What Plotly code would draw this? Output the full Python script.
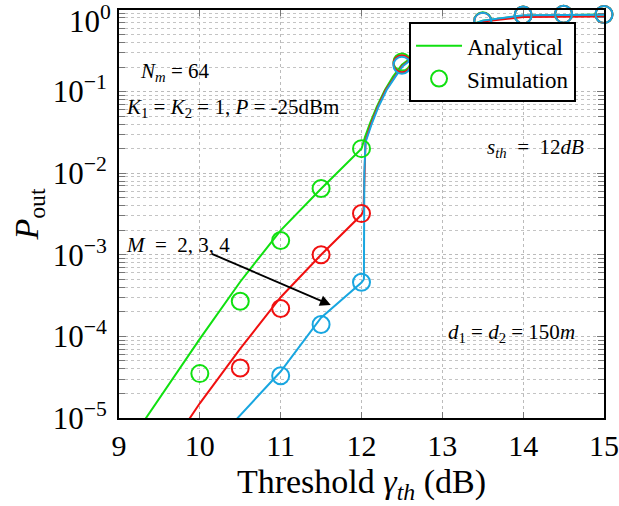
import numpy as np
import plotly.graph_objects as go

# ---------------- data ----------------
# Analytical curves (log10 of P_out)
x_an_M2 = [9.30, 9.5, 10.0, 10.5, 11.0, 11.5, 12.0, 12.045, 12.106, 12.19, 12.29, 12.39, 12.5, 13.0, 13.5, 14.0, 14.5, 15.0]
y_an_M2 = [-5.05, -4.76, -4.03, -3.33, -2.70, -2.19, -1.70, -1.55, -1.385, -1.185, -0.98, -0.817, -0.67, -0.30, -0.13, -0.07, -0.06, -0.055]

x_an_M3 = [9.85, 10.0, 10.5, 11.0, 11.5, 12.0, 12.025, 12.035, 12.05, 12.12, 12.20, 12.30, 12.41, 12.5, 13.0, 13.5, 14.0, 14.5, 15.0]
y_an_M3 = [-5.04, -4.82, -4.15, -3.52, -3.00, -2.51, -2.45, -2.00, -1.60, -1.39, -1.19, -0.98, -0.817, -0.69, -0.31, -0.14, -0.085, -0.082, -0.08]

x_an_M4 = [10.44, 11.0, 11.5, 12.0, 12.03, 12.035, 12.05, 12.13, 12.21, 12.31, 12.42, 12.51, 13.0, 13.5, 14.0, 14.5, 15.0]
y_an_M4 = [-5.03, -4.43, -3.77, -3.34, -3.30, -2.00, -1.62, -1.385, -1.185, -0.98, -0.817, -0.69, -0.31, -0.13, -0.065, -0.06, -0.058]

# Simulation points
x_sim_M2 = [10.0, 10.5, 11.0, 11.5, 12.0, 12.5, 13.0, 13.5, 14.0, 14.5, 15.0]
p_sim_M2 = [3.5e-5, 2.7e-4, 1.5e-3, 6.5e-3, 2.0e-2, 0.23, 0.50, 0.74, 0.87, 0.89, 0.88]

x_sim_M3 = [10.5, 11.0, 11.5, 12.0, 12.5, 13.0, 13.5, 14.0, 14.5, 15.0]
p_sim_M3 = [4.1e-5, 2.2e-4, 1.0e-3, 3.2e-3, 0.22, 0.49, 0.73, 0.87, 0.89, 0.88]

x_sim_M4 = [11.0, 11.5, 12.0, 12.5, 13.0, 13.5, 14.0, 14.5, 15.0]
p_sim_M4 = [3.3e-5, 1.4e-4, 4.6e-4, 0.21, 0.49, 0.73, 0.87, 0.89, 0.88]

y_tick_vals = [1e-5, 1e-4, 1e-3, 1e-2, 1e-1, 1]
y_tick_text = ["10<sup>−5</sup>", "10<sup>−4</sup>", "10<sup>−3</sup>", "10<sup>−2</sup>", "10<sup>−1</sup>", "10<sup>0</sup>"]
x_tick_vals = [9, 10, 11, 12, 13, 14, 15]

GREEN = "#10e010"
RED = "#f01010"
BLUE = "#18a6e0"
FONT = "Liberation Serif"

fig = go.Figure()

series = [
    (x_an_M2, y_an_M2, x_sim_M2, p_sim_M2, GREEN, True),
    (x_an_M3, y_an_M3, x_sim_M3, p_sim_M3, RED, False),
    (x_an_M4, y_an_M4, x_sim_M4, p_sim_M4, BLUE, False),
]

for xa, ya, xs, ps, col, leg in series:
    fig.add_trace(go.Scatter(
        x=xa, y=[10 ** v for v in ya], mode="lines",
        line=dict(color=col, width=2),
        name="Analytical", showlegend=leg))

for xa, ya, xs, ps, col, leg in series:
    fig.add_trace(go.Scatter(
        x=xs, y=ps, mode="markers",
        marker=dict(symbol="circle-open", size=17, color=col, line=dict(width=2, color=col)),
        name="Simulation", showlegend=leg, cliponaxis=False))

minor_vals = [m * 10.0 ** e for e in range(-5, 0) for m in range(2, 10)]

# the top label (10^0) is drawn as an annotation so it stays inside the page
axis_text = y_tick_text[:-1] + [""]

fig.update_xaxes(
    range=[9, 15], tickmode="array", tickvals=x_tick_vals,
    ticks="inside", ticklen=6, tickwidth=1.3, tickcolor="#777777",
    showline=True, linecolor="black", linewidth=2, mirror="allticks",
    showgrid=True, gridcolor="#bbbbbb", griddash="dot", gridwidth=1,
    zeroline=False, ticklabeloverflow="allow", automargin=False,
    tickfont=dict(family=FONT, size=30, color="black"),
    title=dict(text="Threshold <i>γ<sub>th</sub></i> (dB)", font=dict(family=FONT, size=34, color="black"), standoff=8),
)
fig.update_yaxes(
    type="log", range=[-5, 0], tickmode="array", tickvals=y_tick_vals, ticktext=axis_text,
    ticks="inside", ticklen=7, tickwidth=1.3, tickcolor="#777777",
    showline=True, linecolor="black", linewidth=2, mirror="allticks",
    showgrid=True, gridcolor="#bbbbbb", griddash="dot", gridwidth=1,
    zeroline=False, ticklabeloverflow="allow", automargin=False, ticklabelstandoff=4,
    minor=dict(tickmode="array", tickvals=minor_vals, ticks="inside", ticklen=6,
               tickcolor="#777777", tickwidth=1.3, showgrid=True,
               gridcolor="#c4c4c4", griddash="dot", gridwidth=1),
    tickfont=dict(family=FONT, size=31, color="black"),
    title=dict(text="<i>P</i><sub>out</sub>", font=dict(family=FONT, size=34, color="black"), standoff=4),
)

fig.add_annotation(xref="paper", yref="y", x=0, y=0, xanchor="right", yanchor="middle",
                   xshift=-6, yshift=-9, text=y_tick_text[-1], showarrow=False,
                   font=dict(family=FONT, size=31, color="black"))

ann_font = dict(family=FONT, size=21, color="black")
annotations = [
    dict(x=9.69, y=-0.76, text="<i>N<sub>m</sub></i> = 64"),
    dict(x=10.41, y=-1.20, text="<i>K</i><sub>1</sub> = <i>K</i><sub>2</sub> = 1, <i>P</i> = -25dBm"),
    dict(x=14.15, y=-1.69, text="<i>s<sub>th</sub></i>  =  12<i>dB</i>"),
    dict(x=13.85, y=-3.96, text="<i>d</i><sub>1</sub> = <i>d</i><sub>2</sub> = 150<i>m</i>"),
    dict(x=9.73, y=-2.88, text="<i>M</i>  =  2, 3, 4"),
]
for a in annotations:
    fig.add_annotation(xref="x", yref="y", showarrow=False, font=ann_font, **a)

fig.add_annotation(xref="x", yref="y", axref="x", ayref="y",
                   x=11.62, y=-3.615, ax=10.13, ay=-2.98, text="",
                   showarrow=True, arrowhead=2, arrowsize=1.2, arrowwidth=1.8, arrowcolor="black")

fig.update_layout(
    width=619, height=506,
    margin=dict(l=119, r=15, t=10, b=88, autoexpand=False),
    paper_bgcolor="white", plot_bgcolor="white",
    font=dict(family=FONT, color="black"),
    legend=dict(x=0.598, y=0.97, xanchor="left", yanchor="top",
                bgcolor="white", bordercolor="black", borderwidth=2,
                font=dict(family=FONT, size=23, color="black"),
                itemwidth=46, tracegroupgap=0),
)

fig.write_html("out.html")
